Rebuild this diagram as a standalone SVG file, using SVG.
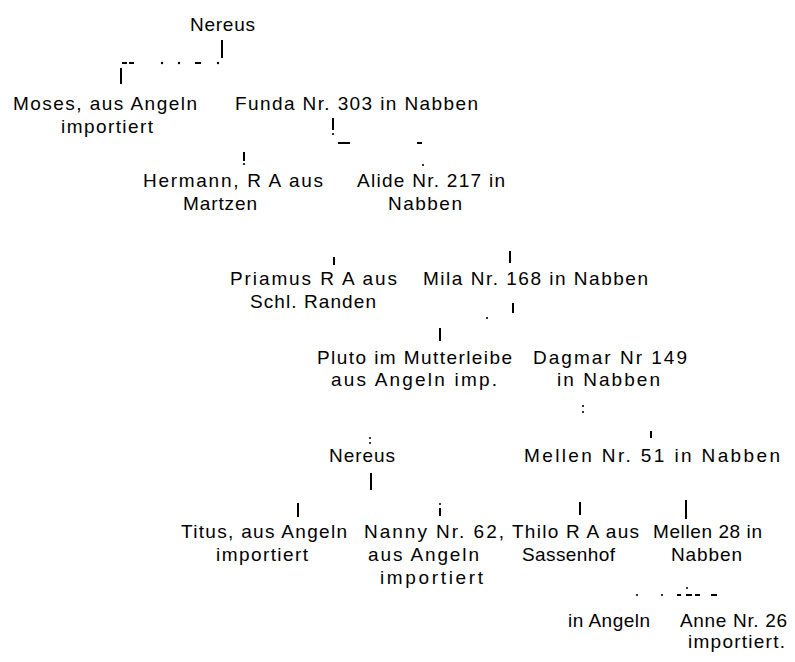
<svg xmlns="http://www.w3.org/2000/svg" width="795" height="662" viewBox="0 0 795 662">
<style>
text{font-family:"Liberation Sans","Arial",sans-serif;font-size:19px;fill:#000}
.c line{stroke:#000;stroke-width:2;stroke-linecap:butt}
.c circle{fill:#000}
</style>
<rect width="795" height="662" fill="#fff"/>
<g class="c" id="connectors">
<line x1="222" y1="40" x2="222" y2="58"/>
<line x1="122" y1="63" x2="127" y2="63"/>
<line x1="129" y1="63" x2="134" y2="63"/>
<circle cx="162" cy="63" r="1.2"/>
<circle cx="179" cy="63" r="1.2"/>
<line x1="195" y1="63" x2="201" y2="63"/>
<circle cx="218" cy="63" r="1.2"/>
<line x1="121" y1="68" x2="121" y2="84"/>
<line x1="333" y1="118" x2="333" y2="130"/>
<circle cx="333" cy="134" r="1.1"/>
<line x1="338" y1="143" x2="350" y2="143"/>
<line x1="417" y1="143" x2="422" y2="143"/>
<line x1="244" y1="152" x2="244" y2="161"/>
<circle cx="244" cy="164" r="1.1"/>
<circle cx="423" cy="165" r="1.1"/>
<line x1="334" y1="257" x2="334" y2="265"/>
<line x1="510" y1="251" x2="510" y2="263"/>
<line x1="513" y1="303" x2="513" y2="313"/>
<circle cx="487" cy="318" r="1.1"/>
<line x1="440" y1="328" x2="440" y2="341"/>
<circle cx="583" cy="406" r="1.1"/>
<circle cx="583" cy="412" r="1.1"/>
<line x1="651" y1="431" x2="651" y2="438"/>
<circle cx="370" cy="438" r="1"/>
<circle cx="370" cy="443" r="1"/>
<line x1="371" y1="473" x2="371" y2="490"/>
<line x1="298" y1="503" x2="298" y2="517"/>
<circle cx="440" cy="504" r="1"/>
<line x1="440" y1="508" x2="440" y2="516"/>
<line x1="580" y1="502" x2="580" y2="515"/>
<line x1="686" y1="500" x2="686" y2="519"/>
<circle cx="637" cy="595" r="1.1"/>
<circle cx="662" cy="595" r="1.1"/>
<line x1="677" y1="595" x2="681" y2="595"/>
<circle cx="687" cy="588" r="1"/>
<line x1="686" y1="595" x2="692" y2="595"/>
<line x1="695" y1="595" x2="700" y2="595"/>
<line x1="711" y1="595" x2="717" y2="595"/>
</g>
<g id="nereus-top"><text x="190" y="31" textLength="65" lengthAdjust="spacing">Nereus</text></g>
<g id="moses"><text x="13" y="110" textLength="184" lengthAdjust="spacing">Moses, aus Angeln</text><text x="61" y="133" textLength="92" lengthAdjust="spacing">importiert</text></g>
<g id="funda"><text x="235" y="110" textLength="243" lengthAdjust="spacing">Funda Nr. 303 in Nabben</text></g>
<g id="hermann"><text x="143" y="187" textLength="180" lengthAdjust="spacing">Hermann, R A aus</text><text x="183" y="210" textLength="74" lengthAdjust="spacing">Martzen</text></g>
<g id="alide"><text x="357" y="187" textLength="148" lengthAdjust="spacing">Alide Nr. 217 in</text><text x="388" y="210" textLength="74" lengthAdjust="spacing">Nabben</text></g>
<g id="priamus"><text x="230" y="285" textLength="167" lengthAdjust="spacing">Priamus R A aus</text><text x="250" y="308" textLength="126" lengthAdjust="spacing">Schl. Randen</text></g>
<g id="mila"><text x="423" y="285" textLength="225" lengthAdjust="spacing">Mila Nr. 168 in Nabben</text></g>
<g id="pluto"><text x="317" y="364" textLength="195" lengthAdjust="spacing">Pluto im Mutterleibe</text><text x="331" y="386" textLength="166" lengthAdjust="spacing">aus Angeln imp.</text></g>
<g id="dagmar"><text x="533" y="364" textLength="154" lengthAdjust="spacing">Dagmar Nr 149</text><text x="557" y="386" textLength="103" lengthAdjust="spacing">in Nabben</text></g>
<g id="nereus-2"><text x="329" y="462" textLength="66" lengthAdjust="spacing">Nereus</text></g>
<g id="mellen-51"><text x="524" y="462" textLength="256" lengthAdjust="spacing">Mellen Nr. 51 in Nabben</text></g>
<g id="titus"><text x="181" y="538" textLength="166" lengthAdjust="spacing">Titus, aus Angeln</text><text x="216" y="561" textLength="92" lengthAdjust="spacing">importiert</text></g>
<g id="nanny"><text x="364" y="538" textLength="140" lengthAdjust="spacing">Nanny Nr. 62,</text><text x="368" y="561" textLength="111" lengthAdjust="spacing">aus Angeln</text><text x="380" y="584" textLength="103" lengthAdjust="spacing">importiert</text></g>
<g id="thilo"><text x="512" y="538" textLength="127" lengthAdjust="spacing">Thilo R A aus</text><text x="522" y="561" textLength="93" lengthAdjust="spacing">Sassenhof</text></g>
<g id="mellen-28"><text x="653" y="538" textLength="109" lengthAdjust="spacing">Mellen 28 in</text><text x="671" y="561" textLength="71" lengthAdjust="spacing">Nabben</text></g>
<g id="angeln"><text x="568" y="627" textLength="82" lengthAdjust="spacing">in Angeln</text></g>
<g id="anne"><text x="680" y="627" textLength="107" lengthAdjust="spacing">Anne Nr. 26</text><text x="688" y="648" textLength="97" lengthAdjust="spacing">importiert.</text></g>
</svg>
